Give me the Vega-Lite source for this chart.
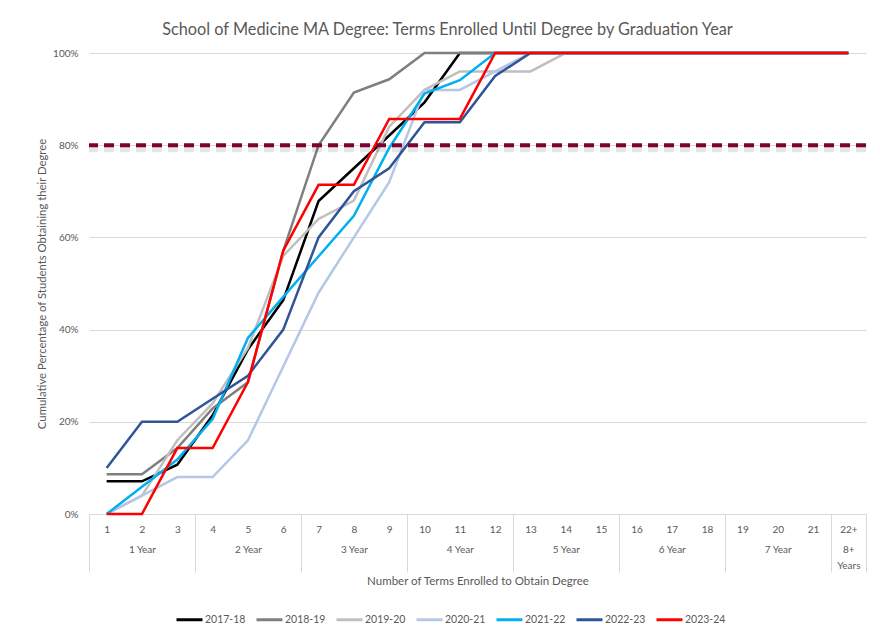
{
  "$schema": "https://vega.github.io/schema/vega-lite/v6.json",
  "width": 777,
  "height": 461,
  "autosize": {"type": "none"},
  "padding": {"left": 89, "top": 53, "right": 14, "bottom": 118},
  "background": "white",
  "title": {"text": "School of Medicine MA Degree: Terms Enrolled Until Degree by Graduation Year", "fontSize": 16.3, "font": "Lato", "fontWeight": "normal", "color": "#595959", "offset": 10, "dx": -30},
  "config": {"view": {"stroke": null}, "font": "Lato"},
  "datasets": {
    "series": [
      {"year":"2017-18","term":1,"pct":7.1},{"year":"2017-18","term":2,"pct":7.1},{"year":"2017-18","term":3,"pct":10.7},{"year":"2017-18","term":4,"pct":21.4},{"year":"2017-18","term":5,"pct":35.7},{"year":"2017-18","term":6,"pct":46.4},{"year":"2017-18","term":7,"pct":67.9},{"year":"2017-18","term":8,"pct":75},{"year":"2017-18","term":9,"pct":82.1},{"year":"2017-18","term":10,"pct":89.3},{"year":"2017-18","term":11,"pct":100},{"year":"2017-18","term":12,"pct":100},{"year":"2017-18","term":13,"pct":100},{"year":"2017-18","term":14,"pct":100},{"year":"2017-18","term":15,"pct":100},{"year":"2017-18","term":16,"pct":100},{"year":"2017-18","term":17,"pct":100},{"year":"2017-18","term":18,"pct":100},{"year":"2017-18","term":19,"pct":100},{"year":"2017-18","term":20,"pct":100},{"year":"2017-18","term":21,"pct":100},{"year":"2017-18","term":22,"pct":100},
      {"year":"2018-19","term":1,"pct":8.6},{"year":"2018-19","term":2,"pct":8.6},{"year":"2018-19","term":3,"pct":14.3},{"year":"2018-19","term":4,"pct":22.9},{"year":"2018-19","term":5,"pct":28.6},{"year":"2018-19","term":6,"pct":57.1},{"year":"2018-19","term":7,"pct":80},{"year":"2018-19","term":8,"pct":91.4},{"year":"2018-19","term":9,"pct":94.3},{"year":"2018-19","term":10,"pct":100},{"year":"2018-19","term":11,"pct":100},{"year":"2018-19","term":12,"pct":100},{"year":"2018-19","term":13,"pct":100},{"year":"2018-19","term":14,"pct":100},{"year":"2018-19","term":15,"pct":100},{"year":"2018-19","term":16,"pct":100},{"year":"2018-19","term":17,"pct":100},{"year":"2018-19","term":18,"pct":100},{"year":"2018-19","term":19,"pct":100},{"year":"2018-19","term":20,"pct":100},{"year":"2018-19","term":21,"pct":100},{"year":"2018-19","term":22,"pct":100},
      {"year":"2019-20","term":1,"pct":0},{"year":"2019-20","term":2,"pct":4},{"year":"2019-20","term":3,"pct":16},{"year":"2019-20","term":4,"pct":24},{"year":"2019-20","term":5,"pct":36},{"year":"2019-20","term":6,"pct":56},{"year":"2019-20","term":7,"pct":64},{"year":"2019-20","term":8,"pct":68},{"year":"2019-20","term":9,"pct":84},{"year":"2019-20","term":10,"pct":92},{"year":"2019-20","term":11,"pct":96},{"year":"2019-20","term":12,"pct":96},{"year":"2019-20","term":13,"pct":96},{"year":"2019-20","term":14,"pct":100},{"year":"2019-20","term":15,"pct":100},{"year":"2019-20","term":16,"pct":100},{"year":"2019-20","term":17,"pct":100},{"year":"2019-20","term":18,"pct":100},{"year":"2019-20","term":19,"pct":100},{"year":"2019-20","term":20,"pct":100},{"year":"2019-20","term":21,"pct":100},{"year":"2019-20","term":22,"pct":100},
      {"year":"2020-21","term":1,"pct":0},{"year":"2020-21","term":2,"pct":4},{"year":"2020-21","term":3,"pct":8},{"year":"2020-21","term":4,"pct":8},{"year":"2020-21","term":5,"pct":16},{"year":"2020-21","term":6,"pct":32},{"year":"2020-21","term":7,"pct":48},{"year":"2020-21","term":8,"pct":60},{"year":"2020-21","term":9,"pct":72},{"year":"2020-21","term":10,"pct":92},{"year":"2020-21","term":11,"pct":92},{"year":"2020-21","term":12,"pct":96},{"year":"2020-21","term":13,"pct":100},{"year":"2020-21","term":14,"pct":100},{"year":"2020-21","term":15,"pct":100},{"year":"2020-21","term":16,"pct":100},{"year":"2020-21","term":17,"pct":100},{"year":"2020-21","term":18,"pct":100},{"year":"2020-21","term":19,"pct":100},{"year":"2020-21","term":20,"pct":100},{"year":"2020-21","term":21,"pct":100},{"year":"2020-21","term":22,"pct":100},
      {"year":"2021-22","term":1,"pct":0},{"year":"2021-22","term":2,"pct":5.9},{"year":"2021-22","term":3,"pct":11.8},{"year":"2021-22","term":4,"pct":20.6},{"year":"2021-22","term":5,"pct":38.2},{"year":"2021-22","term":6,"pct":47.1},{"year":"2021-22","term":7,"pct":55.9},{"year":"2021-22","term":8,"pct":64.7},{"year":"2021-22","term":9,"pct":79.4},{"year":"2021-22","term":10,"pct":91.2},{"year":"2021-22","term":11,"pct":94.1},{"year":"2021-22","term":12,"pct":100},{"year":"2021-22","term":13,"pct":100},{"year":"2021-22","term":14,"pct":100},{"year":"2021-22","term":15,"pct":100},{"year":"2021-22","term":16,"pct":100},{"year":"2021-22","term":17,"pct":100},{"year":"2021-22","term":18,"pct":100},{"year":"2021-22","term":19,"pct":100},{"year":"2021-22","term":20,"pct":100},{"year":"2021-22","term":21,"pct":100},{"year":"2021-22","term":22,"pct":100},
      {"year":"2022-23","term":1,"pct":10},{"year":"2022-23","term":2,"pct":20},{"year":"2022-23","term":3,"pct":20},{"year":"2022-23","term":4,"pct":25},{"year":"2022-23","term":5,"pct":30},{"year":"2022-23","term":6,"pct":40},{"year":"2022-23","term":7,"pct":60},{"year":"2022-23","term":8,"pct":70},{"year":"2022-23","term":9,"pct":75},{"year":"2022-23","term":10,"pct":85},{"year":"2022-23","term":11,"pct":85},{"year":"2022-23","term":12,"pct":95},{"year":"2022-23","term":13,"pct":100},{"year":"2022-23","term":14,"pct":100},{"year":"2022-23","term":15,"pct":100},{"year":"2022-23","term":16,"pct":100},{"year":"2022-23","term":17,"pct":100},{"year":"2022-23","term":18,"pct":100},{"year":"2022-23","term":19,"pct":100},{"year":"2022-23","term":20,"pct":100},{"year":"2022-23","term":21,"pct":100},{"year":"2022-23","term":22,"pct":100},
      {"year":"2023-24","term":1,"pct":0},{"year":"2023-24","term":2,"pct":0},{"year":"2023-24","term":3,"pct":14.3},{"year":"2023-24","term":4,"pct":14.3},{"year":"2023-24","term":5,"pct":28.6},{"year":"2023-24","term":6,"pct":57.1},{"year":"2023-24","term":7,"pct":71.4},{"year":"2023-24","term":8,"pct":71.4},{"year":"2023-24","term":9,"pct":85.7},{"year":"2023-24","term":10,"pct":85.7},{"year":"2023-24","term":11,"pct":85.7},{"year":"2023-24","term":12,"pct":100},{"year":"2023-24","term":13,"pct":100},{"year":"2023-24","term":14,"pct":100},{"year":"2023-24","term":15,"pct":100},{"year":"2023-24","term":16,"pct":100},{"year":"2023-24","term":17,"pct":100},{"year":"2023-24","term":18,"pct":100},{"year":"2023-24","term":19,"pct":100},{"year":"2023-24","term":20,"pct":100},{"year":"2023-24","term":21,"pct":100},{"year":"2023-24","term":22,"pct":100}
    ],
    "target": [{"goal": 80}],
    "bounds": [{"b":0.5},{"b":3.5},{"b":6.5},{"b":9.5},{"b":12.5},{"b":15.5},{"b":18.5},{"b":21.5},{"b":22.5}],
    "groups": [{"g":2},{"g":5},{"g":8},{"g":11},{"g":14},{"g":17},{"g":20},{"g":22}]
  },
  "resolve": {"axis": {"x": "independent"}},
  "layer": [
    {
      "data": {"name": "series"},
      "mark": {"type": "line", "strokeWidth": 2.5},
      "encoding": {
        "x": {"field": "term", "type": "quantitative",
          "scale": {"domain": [0.5, 22.5], "nice": false, "zero": false},
          "axis": {"orient": "bottom", "values": [1,2,3,4,5,6,7,8,9,10,11,12,13,14,15,16,17,18,19,20,21,22],
            "labelExpr": "datum.value == 22 ? '22+' : '' + datum.value",
            "title": null, "grid": false, "ticks": false, "domain": true, "domainColor": "#D9D9D9", "domainWidth": 1,
            "labelPadding": 10, "labelFontSize": 10, "labelColor": "#595959", "labelFlush": false, "labelOverlap": false, "labelBound": false}},
        "y": {"field": "pct", "type": "quantitative",
          "scale": {"domain": [0, 100], "nice": false},
          "axis": {"values": [0,20,40,60,80,100], "labelExpr": "datum.value + '%'",
            "title": "Cumulative Percentage of Students Obtaining their Degree", "titleFontSize": 11.3, "titleFontWeight": "normal", "titleColor": "#595959", "titlePadding": 5,
            "grid": true, "gridColor": "#D9D9D9", "ticks": false, "domain": false,
            "labelPadding": 11, "labelFontSize": 10, "labelColor": "#595959", "labelFlush": false}},
        "color": {"field": "year", "type": "nominal",
          "scale": {"domain": ["2017-18","2018-19","2019-20","2020-21","2021-22","2022-23","2023-24"],
            "range": ["#000000","#7F7F7F","#BFBFBF","#B4C7E7","#00B0F0","#2F5597","#FF0000"]},
          "legend": {"orient": "none", "legendX": 86, "legendY": 552, "direction": "horizontal", "title": null, "symbolType": "stroke", "symbolStrokeWidth": 3, "symbolSize": 676,
            "labelFontSize": 10.5, "labelColor": "#595959", "columnPadding": 4, "labelOffset": 1}}
      }
    },
    {
      "data": {"name": "target"},
      "mark": {"type": "rule", "stroke": "#000000", "opacity": 0.1, "strokeWidth": 6, "strokeDash": [10, 6], "yOffset": 4},
      "encoding": {"y": {"field": "goal", "type": "quantitative"}}
    },
    {
      "data": {"name": "target"},
      "mark": {"type": "rule", "stroke": "#800034", "strokeWidth": 4, "strokeDash": [10, 6]},
      "encoding": {"y": {"field": "goal", "type": "quantitative"}}
    },
    {
      "data": {"name": "bounds"},
      "mark": {"type": "point", "opacity": 0},
      "encoding": {
        "x": {"field": "b", "type": "quantitative",
          "axis": {"orient": "bottom", "values": [0.5,3.5,6.5,9.5,12.5,15.5,18.5,21.5,22.5], "labels": false, "domain": false, "grid": false,
            "ticks": true, "tickSize": 58, "tickColor": "#D9D9D9", "tickWidth": 1,
            "title": "Number of Terms Enrolled to Obtain Degree", "titleFontSize": 11.5, "titleFontWeight": "normal", "titleColor": "#595959", "titlePadding": 3}}
      }
    },
    {
      "data": {"name": "groups"},
      "mark": {"type": "point", "opacity": 0},
      "encoding": {
        "x": {"field": "g", "type": "quantitative",
          "axis": {"orient": "bottom", "values": [2,5,8,11,14,17,20,22],
            "labelExpr": "datum.value == 22 ? ['8+', 'Years'] : (floor(datum.value / 3) + 1) + ' Year'",
            "title": null, "grid": false, "ticks": false, "domain": false,
            "labelPadding": 30, "labelFontSize": 10, "labelLineHeight": 16, "labelColor": "#595959", "labelFlush": false, "labelOverlap": false, "labelBound": false}}
      }
    }
  ]
}
